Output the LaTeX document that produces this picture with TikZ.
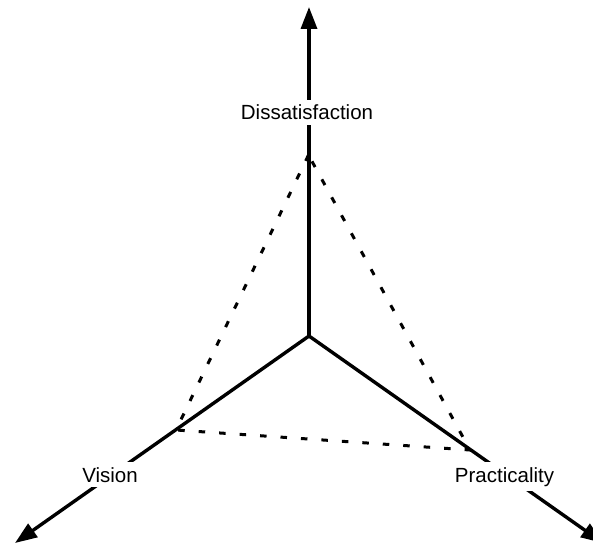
\documentclass[tikz,border=0pt]{standalone}
\usepackage{fontspec}
\setmainfont{Liberation Sans}
\usetikzlibrary{arrows.meta}
\begin{document}
\begin{tikzpicture}[x=1pt,y=1pt,
  axis/.style={line width=3.4pt,-{Triangle[length=22pt,width=16pt]}},
  dots/.style={line width=3pt,dash pattern=on 6.5pt off 14pt},
  lab/.style={fill=white,inner sep=5pt,anchor=base,font=\fontsize{20.5}{24}\selectfont}]
\useasboundingbox (0,0) rectangle (593,546);
\clip (0,0) rectangle (593,546);
\coordinate (C) at (309,210);
\coordinate (T) at (309,539);
\coordinate (L) at (15,3);
\coordinate (R) at (603,3);
\coordinate (D1) at (308.5,391);
\coordinate (D2) at (176,116);
\coordinate (D3) at (470,96);
\draw[dots] (D1) -- (D2) -- (D3) -- cycle;
\draw[axis] (C) -- (T);
\draw[axis] (C) -- (L);
\draw[axis] (C) -- (R);
\node[lab] (dis) at (307,426) {Dissatisfaction};
\node[lab] (vis) at (110,64) {Vision};
\node[lab] (pra) at (504.5,64) {Practicality};
\end{tikzpicture}
\end{document}
